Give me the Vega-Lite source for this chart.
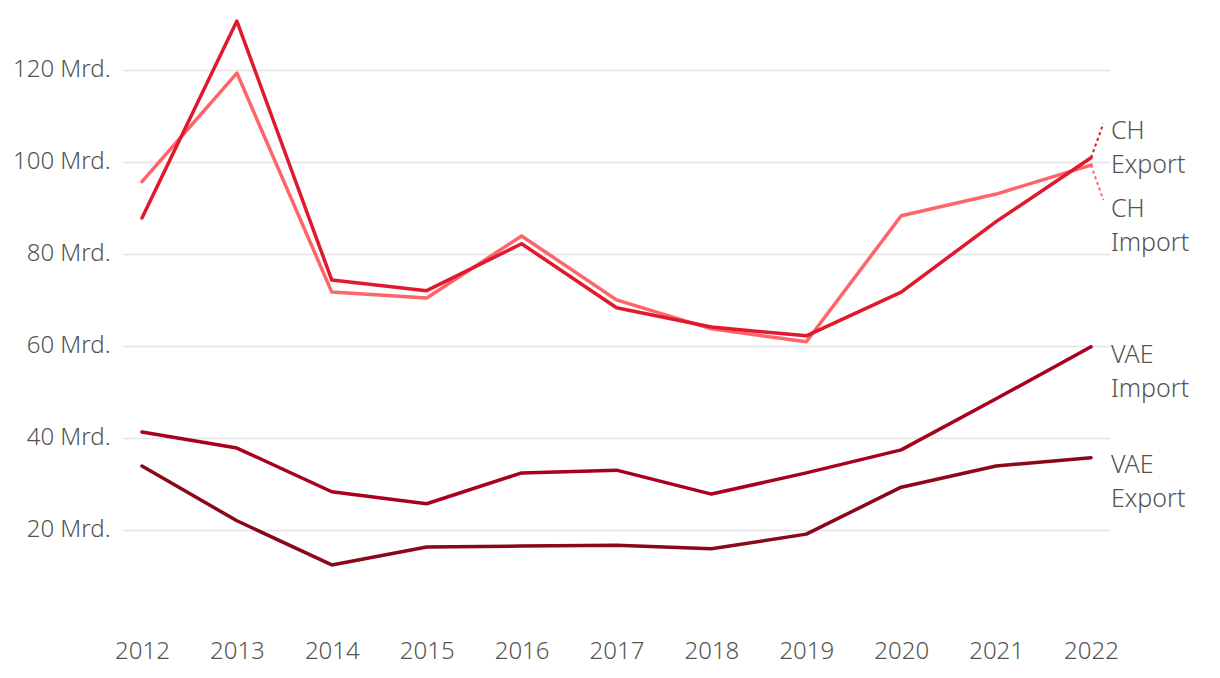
{
  "$schema": "https://vega.github.io/schema/vega-lite/v6.json",
  "width": 987,
  "height": 612,
  "autosize": {"type": "none"},
  "padding": {"left": 123, "top": 10, "right": 110, "bottom": 56},
  "background": "white",
  "config": {
    "view": {"stroke": null},
    "font": "Noto Sans",
    "axis": {"labelFont": "Noto Sans", "labelFontWeight": 300, "labelColor": "#55554f", "labelFontSize": 24}
  },
  "datasets": {
    "series": [
      {"year": 2012, "series": "CH Import", "value": 95.7},
      {"year": 2013, "series": "CH Import", "value": 119.3},
      {"year": 2014, "series": "CH Import", "value": 71.7},
      {"year": 2015, "series": "CH Import", "value": 70.4},
      {"year": 2016, "series": "CH Import", "value": 83.9},
      {"year": 2017, "series": "CH Import", "value": 70.0},
      {"year": 2018, "series": "CH Import", "value": 63.7},
      {"year": 2019, "series": "CH Import", "value": 60.9},
      {"year": 2020, "series": "CH Import", "value": 88.3},
      {"year": 2021, "series": "CH Import", "value": 93.0},
      {"year": 2022, "series": "CH Import", "value": 99.3},
      {"year": 2012, "series": "CH Export", "value": 87.8},
      {"year": 2013, "series": "CH Export", "value": 130.6},
      {"year": 2014, "series": "CH Export", "value": 74.3},
      {"year": 2015, "series": "CH Export", "value": 72.0},
      {"year": 2016, "series": "CH Export", "value": 82.2},
      {"year": 2017, "series": "CH Export", "value": 68.3},
      {"year": 2018, "series": "CH Export", "value": 64.1},
      {"year": 2019, "series": "CH Export", "value": 62.2},
      {"year": 2020, "series": "CH Export", "value": 71.7},
      {"year": 2021, "series": "CH Export", "value": 87.0},
      {"year": 2022, "series": "CH Export", "value": 100.9},
      {"year": 2012, "series": "VAE Import", "value": 41.3},
      {"year": 2013, "series": "VAE Import", "value": 37.8},
      {"year": 2014, "series": "VAE Import", "value": 28.3},
      {"year": 2015, "series": "VAE Import", "value": 25.7},
      {"year": 2016, "series": "VAE Import", "value": 32.4},
      {"year": 2017, "series": "VAE Import", "value": 33.0},
      {"year": 2018, "series": "VAE Import", "value": 27.8},
      {"year": 2019, "series": "VAE Import", "value": 32.4},
      {"year": 2020, "series": "VAE Import", "value": 37.4},
      {"year": 2021, "series": "VAE Import", "value": 48.5},
      {"year": 2022, "series": "VAE Import", "value": 59.8},
      {"year": 2012, "series": "VAE Export", "value": 33.9},
      {"year": 2013, "series": "VAE Export", "value": 22.0},
      {"year": 2014, "series": "VAE Export", "value": 12.4},
      {"year": 2015, "series": "VAE Export", "value": 16.3},
      {"year": 2016, "series": "VAE Export", "value": 16.5},
      {"year": 2017, "series": "VAE Export", "value": 16.7},
      {"year": 2018, "series": "VAE Export", "value": 15.9},
      {"year": 2019, "series": "VAE Export", "value": 19.1},
      {"year": 2020, "series": "VAE Export", "value": 29.3},
      {"year": 2021, "series": "VAE Export", "value": 33.9},
      {"year": 2022, "series": "VAE Export", "value": 35.7}
    ],
    "labels": [
      {"series": "CH Export", "line1": "CH", "line2": "Export", "year": 2022, "value": 100.9, "labelYear": 2022.21, "labelValue": 103.0, "connYear": 2022.13, "connValue": 108.3, "connector": true},
      {"series": "CH Import", "line1": "CH", "line2": "Import", "year": 2022, "value": 99.3, "labelYear": 2022.21, "labelValue": 86.0, "connYear": 2022.13, "connValue": 91.7, "connector": true},
      {"series": "VAE Import", "line1": "VAE", "line2": "Import", "year": 2022, "value": 59.8, "labelYear": 2022.21, "labelValue": 54.3, "connYear": 2022, "connValue": 59.8, "connector": false},
      {"series": "VAE Export", "line1": "VAE", "line2": "Export", "year": 2022, "value": 35.7, "labelYear": 2022.21, "labelValue": 30.4, "connYear": 2022, "connValue": 35.7, "connector": false}
    ]
  },
  "layer": [
    {
      "data": {"name": "series"},
      "mark": {"type": "line", "strokeWidth": 3.5, "strokeCap": "round", "strokeJoin": "round"},
      "encoding": {
        "x": {
          "field": "year", "type": "quantitative",
          "scale": {"domain": [2011.8, 2022.2], "nice": false, "zero": false},
          "axis": {"values": [2012,2013,2014,2015,2016,2017,2018,2019,2020,2021,2022], "format": "d", "title": null, "domain": false, "ticks": false, "grid": false, "labelPadding": 17}
        },
        "y": {
          "field": "value", "type": "quantitative",
          "scale": {"domain": [0, 133], "nice": false},
          "axis": {"values": [20,40,60,80,100,120], "labelExpr": "datum.value + ' Mrd.'", "title": null, "domain": false, "ticks": false, "grid": true, "gridColor": "#e3e3e3", "gridWidth": 1.5, "labelPadding": 13}
        },
        "color": {
          "field": "series", "type": "nominal",
          "scale": {"domain": ["CH Import", "CH Export", "VAE Import", "VAE Export"], "range": ["#ff6468", "#e0192d", "#a8001f", "#8a0817"]},
          "legend": null
        },
        "order": {"field": "year", "type": "quantitative"}
      }
    },
    {
      "data": {"name": "labels"},
      "transform": [{"filter": "datum.connector"}],
      "mark": {"type": "rule", "strokeWidth": 2, "strokeDash": [3, 3]},
      "encoding": {
        "x": {"field": "year", "type": "quantitative"},
        "y": {"field": "value", "type": "quantitative"},
        "x2": {"field": "connYear"},
        "y2": {"field": "connValue"},
        "color": {"field": "series", "type": "nominal", "legend": null}
      }
    },
    {
      "data": {"name": "labels"},
      "mark": {"type": "text", "align": "left", "baseline": "middle", "fontSize": 25, "fontWeight": 300, "color": "#55554f", "dy": -17, "font": "Noto Sans"},
      "encoding": {
        "x": {"field": "labelYear", "type": "quantitative"},
        "y": {"field": "labelValue", "type": "quantitative"},
        "text": {"field": "line1"}
      }
    },
    {
      "data": {"name": "labels"},
      "mark": {"type": "text", "align": "left", "baseline": "middle", "fontSize": 25, "fontWeight": 300, "color": "#55554f", "dy": 17, "font": "Noto Sans"},
      "encoding": {
        "x": {"field": "labelYear", "type": "quantitative"},
        "y": {"field": "labelValue", "type": "quantitative"},
        "text": {"field": "line2"}
      }
    }
  ]
}
